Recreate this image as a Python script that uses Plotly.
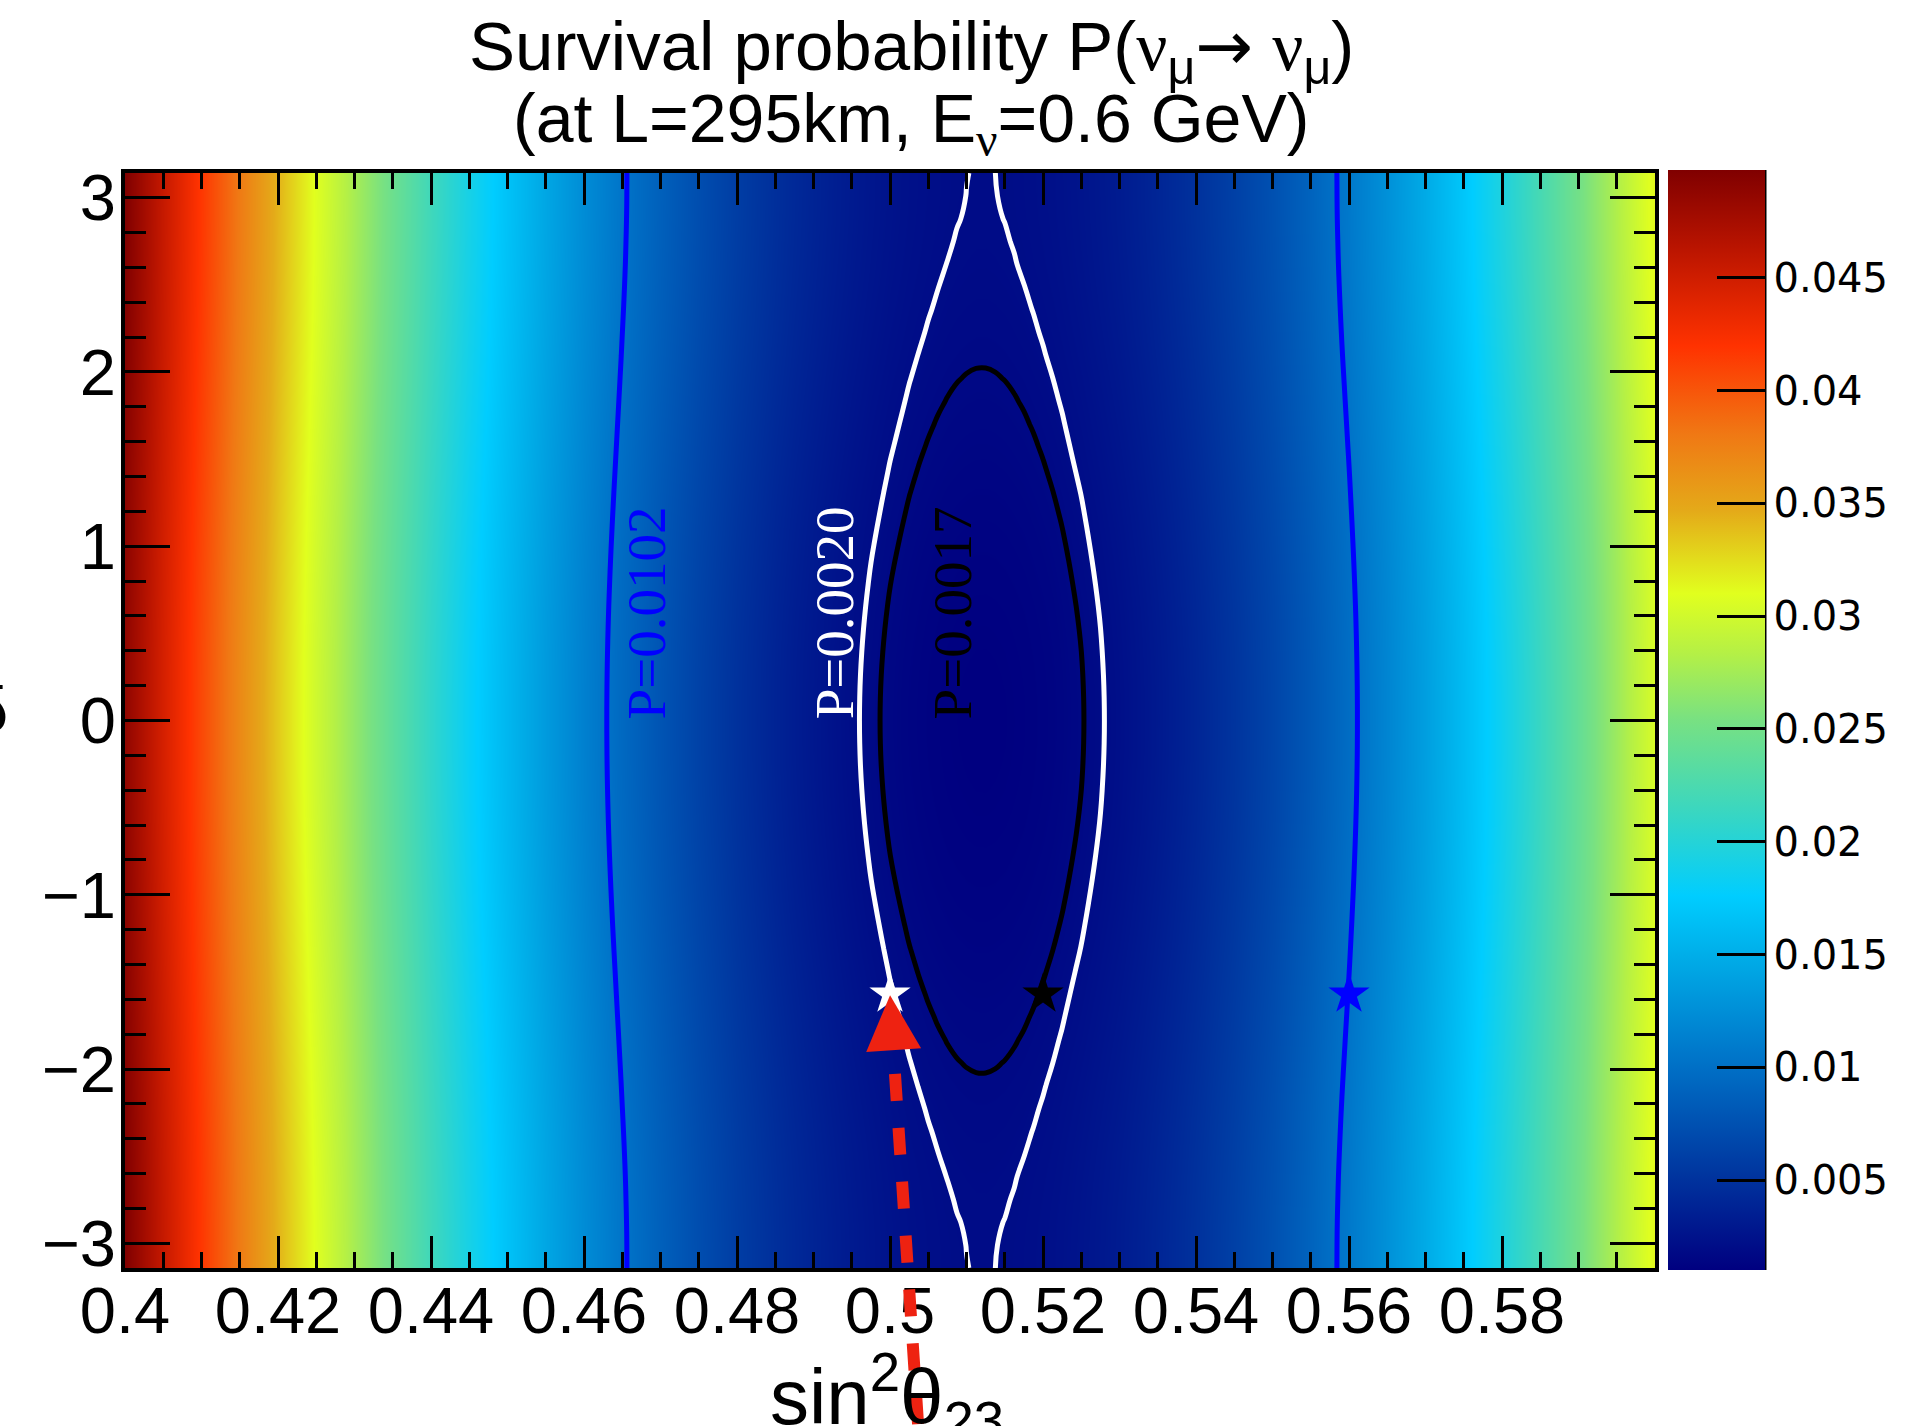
import numpy as np
import plotly.graph_objects as go

# ---------------- data ----------------
# sin^2(theta23) grid (x) and survival probability along delta_CP = 0
sin2_theta23 = [0.400, 0.405, 0.410, 0.415, 0.420, 0.425, 0.430, 0.435, 0.440, 0.445,
                0.450, 0.455, 0.460, 0.465, 0.470, 0.475, 0.480, 0.485,
                0.4875, 0.4900, 0.4925, 0.4950, 0.4975, 0.5000,
                0.5025, 0.50375, 0.5050, 0.50625, 0.5075, 0.50875, 0.5100, 0.51125, 0.5125,
                0.51375, 0.5150, 0.51625, 0.5175, 0.51875, 0.5200, 0.52125, 0.5225,
                0.5250, 0.5275, 0.5300, 0.5325, 0.5350, 0.5375,
                0.540, 0.545, 0.550, 0.555, 0.560, 0.565, 0.570, 0.575, 0.580, 0.585,
                0.590, 0.595, 0.600]
p_at_delta0 = [0.04881, 0.04464, 0.04066, 0.03687, 0.03327, 0.02986, 0.02664, 0.02361, 0.02077, 0.01812,
               0.01567, 0.01340, 0.01132, 0.00944, 0.00774, 0.00624, 0.00492, 0.00380,
               0.003307, 0.002864, 0.002469, 0.002121, 0.001821, 0.001569,
               0.0013639, 0.0012793, 0.0012067, 0.0011460, 0.0010972, 0.0010602, 0.0010352, 0.0010221, 0.0010210,
               0.0010316, 0.0010542, 0.0010886, 0.0011350, 0.0011931, 0.0012632, 0.0013451, 0.0014390,
               0.001662, 0.001933, 0.002251, 0.002617, 0.003030, 0.003491,
               0.00400, 0.00516, 0.00651, 0.00805, 0.00978, 0.01169, 0.01380, 0.01610, 0.01859, 0.02127,
               0.02414, 0.02720, 0.03045]

# delta_CP grid (y, radians, 7.5 degree steps) and increase of P relative to delta_CP = 0
delta_cp = [-3.1416, -3.0107, -2.8798, -2.7489, -2.6180, -2.4871, -2.3562, -2.2253, -2.0944,
            -1.9635, -1.8326, -1.7017, -1.5708, -1.4399, -1.3090, -1.1781, -1.0472, -0.9163,
            -0.7854, -0.6545, -0.5236, -0.3927, -0.2618, -0.1309, 0.0,
            0.1309, 0.2618, 0.3927, 0.5236, 0.6545, 0.7854, 0.9163, 1.0472, 1.1781,
            1.3090, 1.4399, 1.5708, 1.7017, 1.8326, 1.9635, 2.0944, 2.2253, 2.3562,
            2.4871, 2.6180, 2.7489, 2.8798, 3.0107, 3.1416]
dp_vs_delta = [0.000968, 0.000963, 0.000950, 0.000926, 0.000898, 0.000859, 0.000815, 0.000766, 0.000712,
               0.000652, 0.000592, 0.000531, 0.000470, 0.000409, 0.000348, 0.000290, 0.000235, 0.000184,
               0.000138, 0.000097, 0.000063, 0.000036, 0.000016, 0.000004, 0.0,
               0.000004, 0.000016, 0.000036, 0.000063, 0.000097, 0.000138, 0.000184, 0.000235, 0.000290,
               0.000348, 0.000409, 0.000470, 0.000531, 0.000592, 0.000652, 0.000712, 0.000766, 0.000815,
               0.000859, 0.000898, 0.000926, 0.000950, 0.000963, 0.000968]

# iso-probability contours and their reference points
contour_levels = [0.0102, 0.0020, 0.0017]
contour_labels = ["P=0.0102", "P=0.0020", "P=0.0017"]
contour_colors = ["#0000ff", "#ffffff", "#000000"]
star_sin2 = [0.56, 0.50, 0.52]
star_delta = [-1.5708, -1.5708, -1.5708]

# arrow (tip at the white star, dashed tail running below the axis)
arrow_tip = (0.50, -1.5708)
arrow_tail_top = (0.50065, -2.028)
arrow_tail_bottom = (0.50378, -4.113)

x_tick_vals = [0.40, 0.42, 0.44, 0.46, 0.48, 0.50, 0.52, 0.54, 0.56, 0.58]
x_tick_text = ["0.4", "0.42", "0.44", "0.46", "0.48", "0.5", "0.52", "0.54", "0.56", "0.58"]
y_tick_vals = [-3, -2, -1, 0, 1, 2, 3]
cbar_tick_vals = [0.005, 0.010, 0.015, 0.020, 0.025, 0.030, 0.035, 0.040, 0.045]
cbar_tick_text = ["0.005", "0.01", "0.015", "0.02", "0.025", "0.03", "0.035", "0.04", "0.045"]

X_RANGE = [0.4, 0.6]
Y_RANGE = [-np.pi, np.pi]

# table built from the arrays above
z = np.add.outer(np.array(dp_vs_delta), np.array(p_at_delta0))

colorscale = [
    [0.00, "rgb(0,0,128)"],
    [0.09, "rgb(0,55,160)"],
    [0.19, "rgb(0,115,200)"],
    [0.28, "rgb(0,170,230)"],
    [0.34, "rgb(0,205,255)"],
    [0.42, "rgb(60,215,190)"],
    [0.50, "rgb(120,225,130)"],
    [0.56, "rgb(180,240,70)"],
    [0.615, "rgb(225,255,30)"],
    [0.69, "rgb(228,170,25)"],
    [0.76, "rgb(240,120,20)"],
    [0.84, "rgb(255,50,0)"],
    [0.93, "rgb(185,20,0)"],
    [1.00, "rgb(128,0,0)"],
]

fig = go.Figure()

fig.add_trace(go.Heatmap(
    x=sin2_theta23, y=delta_cp, z=z, zsmooth="best", colorscale=colorscale,
    hoverinfo="skip",
    colorbar=dict(
        thickness=97, thicknessmode="pixels", len=1.0046, lenmode="fraction",
        x=1.0085, xanchor="left", xpad=0, y=0.5005, yanchor="middle", ypad=0,
        outlinewidth=0, ticks="inside", ticklen=48, tickwidth=2.5, tickcolor="black",
        tickvals=cbar_tick_vals, ticktext=cbar_tick_text,
        tickfont=dict(family="DejaVu Sans", size=40, color="black"),
    ),
))

for lev, col in zip(contour_levels, contour_colors):
    fig.add_trace(go.Contour(
        x=sin2_theta23, y=delta_cp, z=z, autocontour=False,
        contours=dict(start=lev, end=lev, size=1, coloring="none", showlabels=False),
        line=dict(color=col, width=5, smoothing=1.3),
        showscale=False, hoverinfo="skip",
    ))

fig.add_trace(go.Scatter(
    x=star_sin2, y=star_delta, mode="markers",
    marker=dict(symbol="star", size=31, color=contour_colors, line=dict(width=0)),
    hoverinfo="skip", showlegend=False,
))


def xdom(s):
    return (s - X_RANGE[0]) / (X_RANGE[1] - X_RANGE[0])


def ydom(d):
    return (d - Y_RANGE[0]) / (Y_RANGE[1] - Y_RANGE[0])


RED = "#ee2211"
fig.add_shape(type="line", xref="x domain", yref="y domain",
              x0=xdom(arrow_tail_top[0]), y0=ydom(arrow_tail_top[1]),
              x1=xdom(arrow_tail_bottom[0]), y1=ydom(arrow_tail_bottom[1]),
              line=dict(color=RED, width=12, dash="27px,27px"), layer="above")
# colorbar right border
fig.add_shape(type="line", xref="paper", yref="paper", x0=1.0719, x1=1.0719, y0=-0.0018, y1=1.0028,
              line=dict(color="black", width=3))

NU = "<span style=\"font-family:'Liberation Serif'\">ν</span>"
ARROW = "<span style=\"font-family:'DejaVu Sans'\">→</span>"
annotations = [
    dict(x=arrow_tip[0], y=arrow_tip[1], xref="x", yref="y", text="", showarrow=True,
         ax=3.6, ay=55, axref="pixel", ayref="pixel", arrowhead=2, arrowsize=1,
         arrowwidth=11, arrowcolor=RED, standoff=1),
    dict(x=0.514, y=1.112, xref="paper", yref="paper", showarrow=False,
         text="Survival probability P(" + NU + "<sub>μ</sub>" + ARROW + " " + NU + "<sub>μ</sub>)",
         font=dict(family="Liberation Sans", size=69, color="black"), xanchor="center", yanchor="middle"),
    dict(x=0.514, y=1.046, xref="paper", yref="paper", showarrow=False,
         text="(at L=295km, E<sub>" + NU + "</sub>=0.6 GeV)",
         font=dict(family="Liberation Sans", size=68, color="black"), xanchor="center", yanchor="middle"),
    dict(x=0.498, y=-0.118, xref="paper", yref="paper", showarrow=False,
         text="sin<sup>2</sup>θ<sub>23</sub>",
         font=dict(family="Liberation Sans", size=78, color="black"), xanchor="center", yanchor="middle"),
    dict(x=-0.075, y=0.51, xref="paper", yref="paper", showarrow=False, text="δ",
         font=dict(family="Liberation Sans", size=65, color="black"), xanchor="right", yanchor="middle"),
]
label_x = [0.4681, 0.4928, 0.5081]
for lx, txt, col in zip(label_x, contour_labels, contour_colors):
    annotations.append(dict(x=lx, y=0.62, xref="x", yref="y", text=txt, showarrow=False,
                            textangle=-90, xanchor="center", yanchor="middle",
                            font=dict(family="Liberation Serif", size=55, color=col)))

tickfont = dict(family="Liberation Sans", size=65, color="black")
fig.update_layout(
    width=1931, height=1426,
    margin=dict(l=125, r=276, t=173, b=158, pad=0, autoexpand=False),
    paper_bgcolor="white", plot_bgcolor="white",
    showlegend=False,
    annotations=annotations,
    xaxis=dict(range=X_RANGE, tickmode="array", tickvals=x_tick_vals, ticktext=x_tick_text,
               ticks="inside", ticklen=32, tickwidth=3, tickcolor="black",
               showline=True, linewidth=4, linecolor="black", mirror="allticks",
               minor=dict(tickmode="linear", tick0=0.4, dtick=0.005, ticks="inside",
                          ticklen=16, tickwidth=3, tickcolor="black"),
               ticklabelstandoff=-17,
               tickfont=tickfont, showgrid=False, zeroline=False, automargin=False),
    yaxis=dict(range=Y_RANGE, tickmode="array", tickvals=y_tick_vals,
               ticks="inside", ticklen=45, tickwidth=3, tickcolor="black",
               showline=True, linewidth=4, linecolor="black", mirror="allticks",
               minor=dict(tickmode="linear", tick0=0, dtick=0.2, ticks="inside",
                          ticklen=21, tickwidth=3, tickcolor="black"),
               ticklabelstandoff=-8,
               tickfont=tickfont, showgrid=False, zeroline=False, automargin=False),
)

fig.write_html("out.html")
